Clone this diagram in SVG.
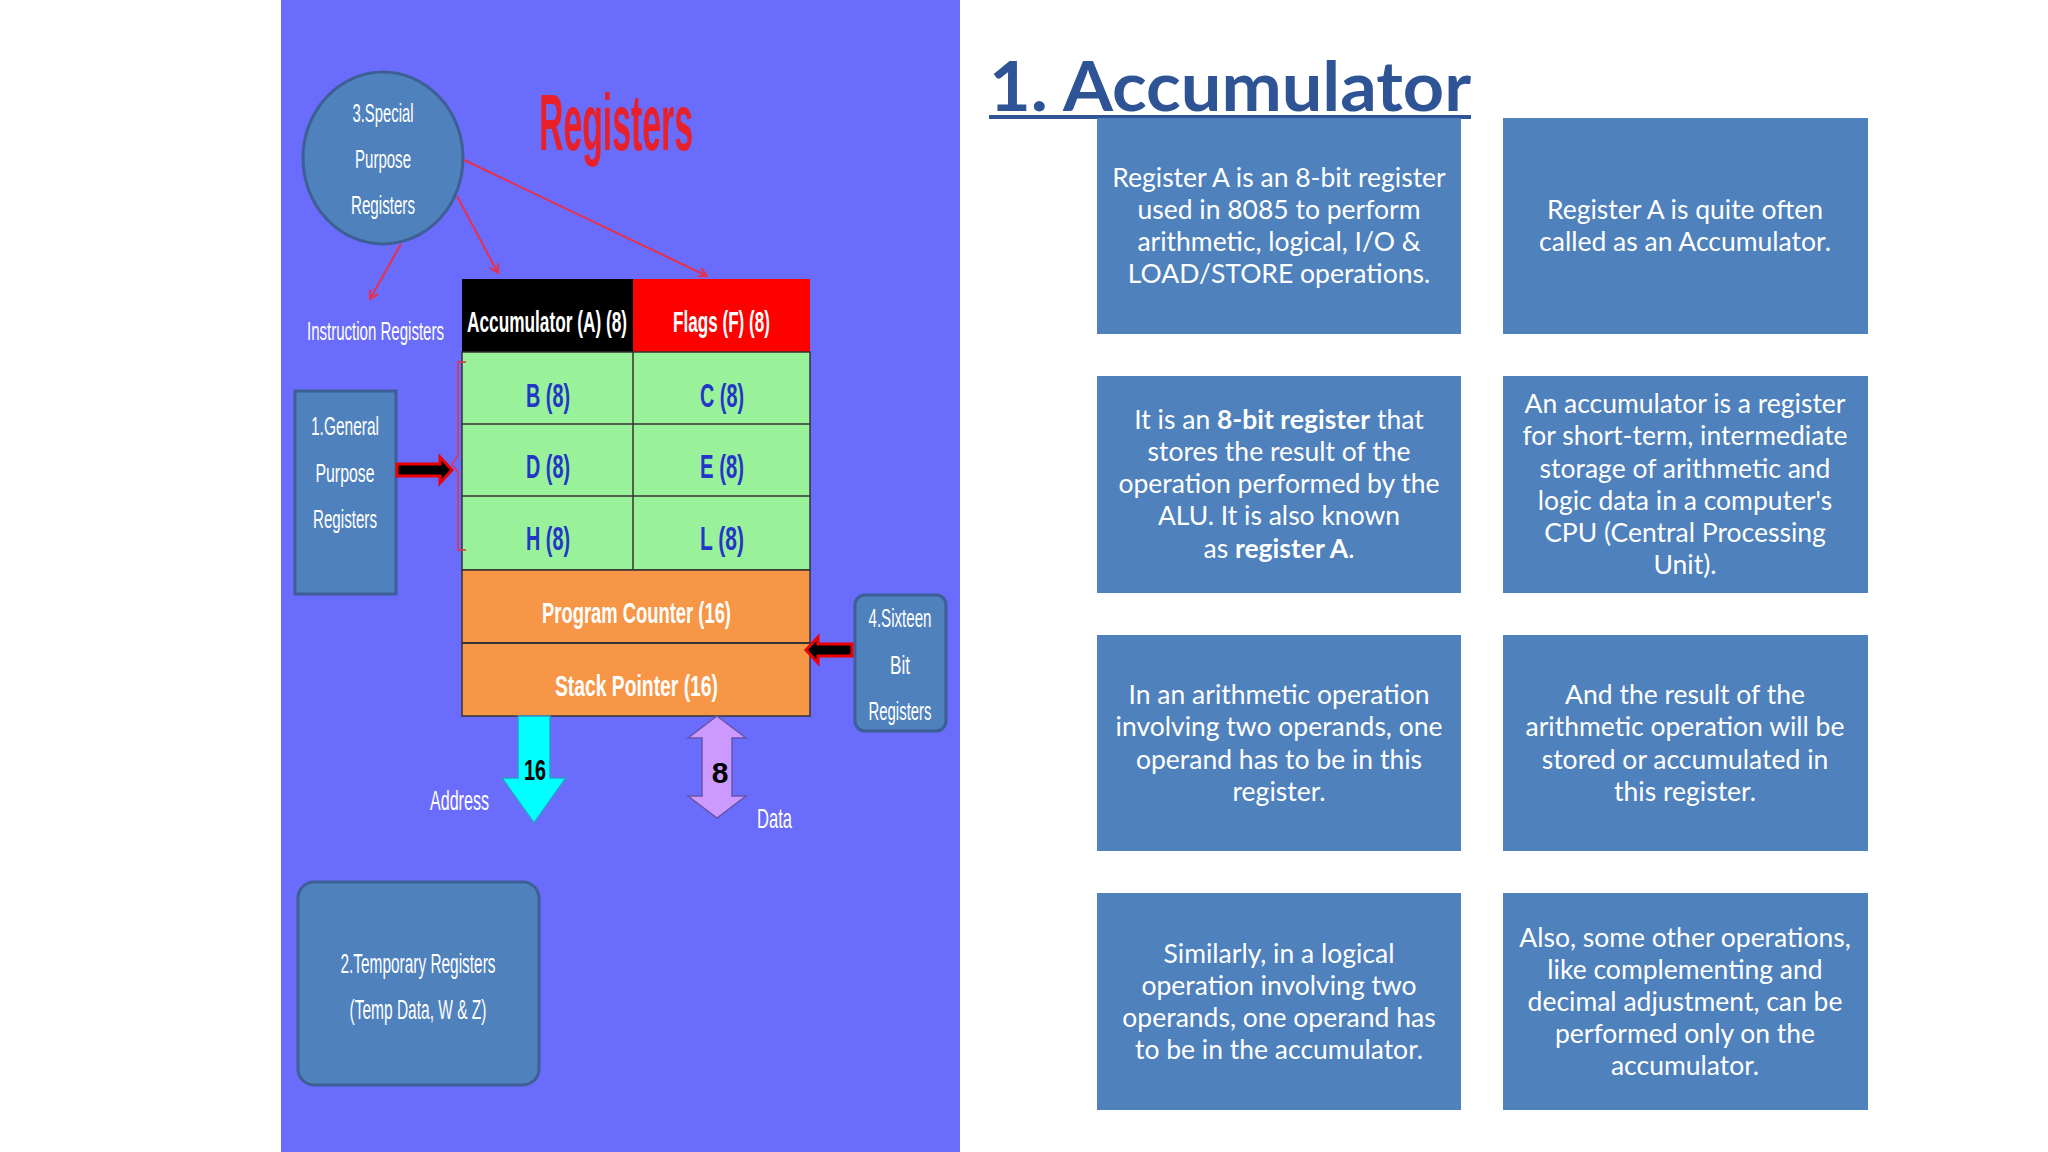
<svg xmlns="http://www.w3.org/2000/svg" width="2048" height="1152" viewBox="0 0 2048 1152">
<defs>
<style>
.c{font-family:"Liberation Sans",sans-serif}
.w{fill:#fff}
.bx{fill:#4f81bd}
.bt{font-family:Lato,"Liberation Sans",sans-serif;font-size:26.5px;fill:#fff;text-anchor:middle}
.rl{stroke:#e8304a;stroke-width:2;fill:none}
</style>
<marker id="ah" markerWidth="10" markerHeight="10" refX="9" refY="5" orient="auto" markerUnits="userSpaceOnUse"><path d="M0,0 L9,5 L0,10" fill="none" stroke="#e8304a" stroke-width="2"/></marker>
</defs>
<rect width="2048" height="1152" fill="#fff"/>
<g id="panel">
<rect x="281" y="0" width="679" height="1152" fill="#6a6cfb"/>
<text x="539" y="150" class="c" font-size="80" font-weight="bold" fill="#e8202a" textLength="154" lengthAdjust="spacingAndGlyphs">Registers</text>
</g>
<g id="special">
<ellipse cx="383" cy="158" rx="80" ry="86" fill="#4f81bd" stroke="#3d5f96" stroke-width="3"/>
<g class="c w" font-size="26" text-anchor="middle"><text x="383" y="122" textLength="61" lengthAdjust="spacingAndGlyphs">3.Special</text><text x="383" y="168" textLength="56" lengthAdjust="spacingAndGlyphs">Purpose</text><text x="383" y="214" textLength="64" lengthAdjust="spacingAndGlyphs">Registers</text></g>
</g>
<g id="instr"><text x="307" y="340" class="c w" font-size="26" textLength="137" lengthAdjust="spacingAndGlyphs">Instruction Registers</text></g>
<g id="grid">
<rect x="462" y="279" width="171" height="73" fill="#000"/>
<rect x="633" y="279" width="177" height="73" fill="#ff0000"/>
<rect x="462" y="352" width="348" height="218" fill="#99f299" stroke="#333" stroke-width="1.5"/>
<line x1="462" y1="424" x2="810" y2="424" stroke="#333" stroke-width="1.5"/>
<line x1="462" y1="496" x2="810" y2="496" stroke="#333" stroke-width="1.5"/>
<line x1="633" y1="352" x2="633" y2="570" stroke="#333" stroke-width="1.5"/>
<rect x="462" y="570" width="348" height="146" fill="#f79646" stroke="#333" stroke-width="1.5"/>
<line x1="462" y1="643" x2="810" y2="643" stroke="#333" stroke-width="2"/>
<g class="c w" font-size="30" font-weight="bold">
<text x="467" y="332" textLength="160" lengthAdjust="spacingAndGlyphs">Accumulator (A) (8)</text><text x="673" y="332" textLength="97" lengthAdjust="spacingAndGlyphs">Flags (F) (8)</text>
<text x="542" y="623" textLength="189" lengthAdjust="spacingAndGlyphs">Program Counter (16)</text><text x="555" y="696" textLength="163" lengthAdjust="spacingAndGlyphs">Stack Pointer  (16)</text></g>
<g class="c" font-size="34" font-weight="bold" fill="#2436c8">
<text x="526" y="407" textLength="44" lengthAdjust="spacingAndGlyphs">B (8)</text><text x="700" y="407" textLength="44" lengthAdjust="spacingAndGlyphs">C (8)</text>
<text x="526" y="478" textLength="44" lengthAdjust="spacingAndGlyphs">D (8)</text><text x="700" y="478" textLength="44" lengthAdjust="spacingAndGlyphs">E (8)</text>
<text x="526" y="550" textLength="44" lengthAdjust="spacingAndGlyphs">H (8)</text><text x="700" y="550" textLength="44" lengthAdjust="spacingAndGlyphs">L (8)</text></g>
<path d="M466,362 L458,362 L458,456 L452,464 L458,472 L458,550 L466,550" fill="none" stroke="#e8304a" stroke-width="1.5"/>
</g>
<g id="general">
<rect x="295" y="391" width="101" height="203" fill="#4f81bd" stroke="#3d5f96" stroke-width="3"/>
<g class="c w" font-size="26" text-anchor="middle"><text x="345" y="435" textLength="68" lengthAdjust="spacingAndGlyphs">1.General</text><text x="345" y="482" textLength="59" lengthAdjust="spacingAndGlyphs">Purpose</text><text x="345" y="528" textLength="64" lengthAdjust="spacingAndGlyphs">Registers</text></g>
</g>
<g id="sixteen">
<rect x="855" y="595" width="91" height="136" rx="10" fill="#4f81bd" stroke="#3d5f96" stroke-width="3"/>
<g class="c w" font-size="26" text-anchor="middle"><text x="900" y="627" textLength="63" lengthAdjust="spacingAndGlyphs">4.Sixteen</text><text x="900" y="674" textLength="20" lengthAdjust="spacingAndGlyphs">Bit</text><text x="900" y="720" textLength="63" lengthAdjust="spacingAndGlyphs">Registers</text></g>
</g>
<g id="temp">
<rect x="298" y="882" width="241" height="203" rx="16" fill="#4f81bd" stroke="#3d5f96" stroke-width="3"/>
<g class="c w" font-size="27" text-anchor="middle"><text x="418" y="973" textLength="155" lengthAdjust="spacingAndGlyphs">2.Temporary  Registers</text><text x="418" y="1019" textLength="137" lengthAdjust="spacingAndGlyphs">(Temp Data, W &amp;  Z)</text></g>
</g>
<g id="connectors">
<line x1="464" y1="160" x2="707" y2="276" class="rl" marker-end="url(#ah)"/>
<line x1="457" y1="196" x2="498" y2="273" class="rl" marker-end="url(#ah)"/>
<line x1="401" y1="244" x2="370" y2="299" class="rl" marker-end="url(#ah)"/>
<path d="M397,464 L440,464 L440,457 L452,470 L440,483 L440,476 L397,476 Z" fill="#000" stroke="#e00" stroke-width="3"/>
<path d="M852,644 L818,644 L818,637 L806,650 L818,663 L818,656 L852,656 Z" fill="#000" stroke="#e00" stroke-width="3"/>
<path d="M518,716 L550,716 L550,778 L566,778 L534,823 L502,778 L518,778 Z" fill="#00ffff" stroke="#3399cc" stroke-width="1.5"/>
<path d="M717,716 L746,738 L732,738 L732,796 L746,796 L717,818 L688,796 L702,796 L702,738 L688,738 Z" fill="#cc99ff" stroke="#6655aa" stroke-width="1.5"/>
<text x="524" y="780" class="c" font-size="30" font-weight="bold" textLength="22" lengthAdjust="spacingAndGlyphs">16</text>
<text x="720" y="783" class="c" font-size="30" font-weight="bold" text-anchor="middle">8</text>
<text x="430" y="810" class="c w" font-size="28" textLength="59" lengthAdjust="spacingAndGlyphs">Address</text>
<text x="757" y="828" class="c w" font-size="28" textLength="35" lengthAdjust="spacingAndGlyphs">Data</text>
</g>
<g id="title">
<text x="989" y="111" font-family="Lato,'Liberation Sans',sans-serif" font-size="69" font-weight="bold" fill="#2f5496" textLength="482" lengthAdjust="spacingAndGlyphs">1. Accumulator</text>
<rect x="989" y="115" width="482" height="4" fill="#2f5496"/>
</g>
<g id="b1"><rect class="bx" x="1097" y="118" width="364" height="216"/>
<text class="bt"><tspan x="1279" y="187">Register A is an 8-bit register</tspan><tspan x="1279" y="219">used in 8085 to perform</tspan><tspan x="1279" y="251">arithmetic, logical, I/O &amp;</tspan><tspan x="1279" y="283">LOAD/STORE operations.</tspan></text></g>
<g id="b2"><rect class="bx" x="1503" y="118" width="365" height="216"/>
<text class="bt"><tspan x="1685" y="219">Register A is quite often</tspan><tspan x="1685" y="251">called as an Accumulator.</tspan></text></g>
<g id="b3"><rect class="bx" x="1097" y="376" width="364" height="217"/>
<text class="bt"><tspan x="1279" y="429">It is an <tspan font-weight="bold">8-bit register</tspan> that</tspan><tspan x="1279" y="461">stores the result of the</tspan><tspan x="1279" y="493">operation performed by the</tspan><tspan x="1279" y="525">ALU. It is also known</tspan><tspan x="1279" y="558">as <tspan font-weight="bold">register A</tspan>.</tspan></text></g>
<g id="b4"><rect class="bx" x="1503" y="376" width="365" height="217"/>
<text class="bt"><tspan x="1685" y="413">An accumulator is a register</tspan><tspan x="1685" y="445">for short-term, intermediate</tspan><tspan x="1685" y="478">storage of arithmetic and</tspan><tspan x="1685" y="510">logic data in a computer's</tspan><tspan x="1685" y="542">CPU (Central Processing</tspan><tspan x="1685" y="574">Unit).</tspan></text></g>
<g id="b5"><rect class="bx" x="1097" y="635" width="364" height="216"/>
<text class="bt"><tspan x="1279" y="704">In an arithmetic operation</tspan><tspan x="1279" y="736">involving two operands, one</tspan><tspan x="1279" y="769">operand has to be in this</tspan><tspan x="1279" y="801">register.</tspan></text></g>
<g id="b6"><rect class="bx" x="1503" y="635" width="365" height="216"/>
<text class="bt"><tspan x="1685" y="704">And the result of the</tspan><tspan x="1685" y="736">arithmetic operation will be</tspan><tspan x="1685" y="769">stored or accumulated in</tspan><tspan x="1685" y="801">this register.</tspan></text></g>
<g id="b7"><rect class="bx" x="1097" y="893" width="364" height="217"/>
<text class="bt"><tspan x="1279" y="963">Similarly, in a logical</tspan><tspan x="1279" y="995">operation involving two</tspan><tspan x="1279" y="1027">operands, one operand has</tspan><tspan x="1279" y="1059">to be in the accumulator.</tspan></text></g>
<g id="b8"><rect class="bx" x="1503" y="893" width="365" height="217"/>
<text class="bt"><tspan x="1685" y="947">Also, some other operations,</tspan><tspan x="1685" y="979">like complementing and</tspan><tspan x="1685" y="1011">decimal adjustment, can be</tspan><tspan x="1685" y="1043">performed only on the</tspan><tspan x="1685" y="1075">accumulator.</tspan></text></g>
</svg>
